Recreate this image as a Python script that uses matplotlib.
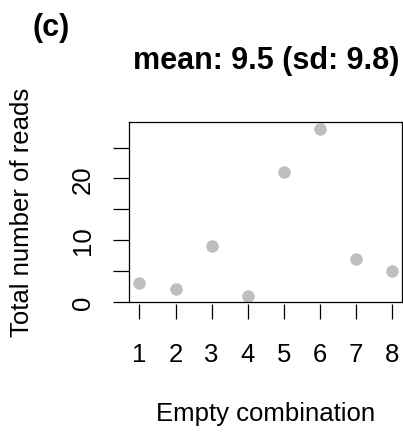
'''
Empty combinations: total number of reads per combination.
'''

import numpy as np
import matplotlib as mpl
mpl.use('Agg')
from matplotlib import pyplot as plt

mpl.rcParams['font.family'] = ['Liberation Sans', 'DejaVu Sans']

combos      = [1, 2, 3, 4, 5, 6, 7, 8]
reads       = [3, 2, 9, 1, 21, 28, 7, 5]
yticks      = [0, 5, 10, 15, 20, 25]
ytick_lbls  = ['0', '', '10', '', '20', '']

mean_r = np.mean(reads)
sd_r   = np.std(reads, ddof=1)

fig = plt.figure(figsize=(4.03, 4.35), dpi=100)
ax  = fig.add_axes([0.321, 0.304, 0.677, 0.414])

ax.plot(combos, reads, 'o', color='#BEBEBE', ms=9, mec='none')

ax.set_xlim(0.72, 8.28)
ax.set_ylim(0, 29.2)
ax.set_yticks(yticks)
ax.set_yticklabels(ytick_lbls)

for s in ax.spines.values():
	s.set_linewidth(0.9)
ax.tick_params(direction='out', length=11.2, width=0.9, labelsize=18.5)
ax.tick_params(axis='x', bottom=False, labelbottom=False)
ax.tick_params(axis='y', pad=13.5)
for t in ax.get_yticklabels():
	t.set_rotation(90)
	t.set_va('center')

### x ticks sit a little below the box (as R's axis does):
sec = ax.secondary_xaxis(-2.2/180)
sec.spines['bottom'].set_visible(False)
sec.set_xticks(combos)
sec.tick_params(direction='out', length=10.5, width=0.9, labelsize=18.5, pad=17)

ax.set_xlabel('Empty combination', fontsize=18.5, va='center')
ax.xaxis.set_label_coords(0.5, -0.62)
ax.set_ylabel('Total number of reads', fontsize=18.5, va='center')
ax.yaxis.set_label_coords(-0.393, 0.5)

ax.set_title(f'mean: {mean_r:.1f} (sd: {sd_r:.1f})', fontsize=22, fontweight='bold', pad=39)
fig.text(51/403, 1 - 28/435, '(c)', fontsize=22, fontweight='bold', ha='center', va='center')

plt.savefig('out.png', dpi=100)
